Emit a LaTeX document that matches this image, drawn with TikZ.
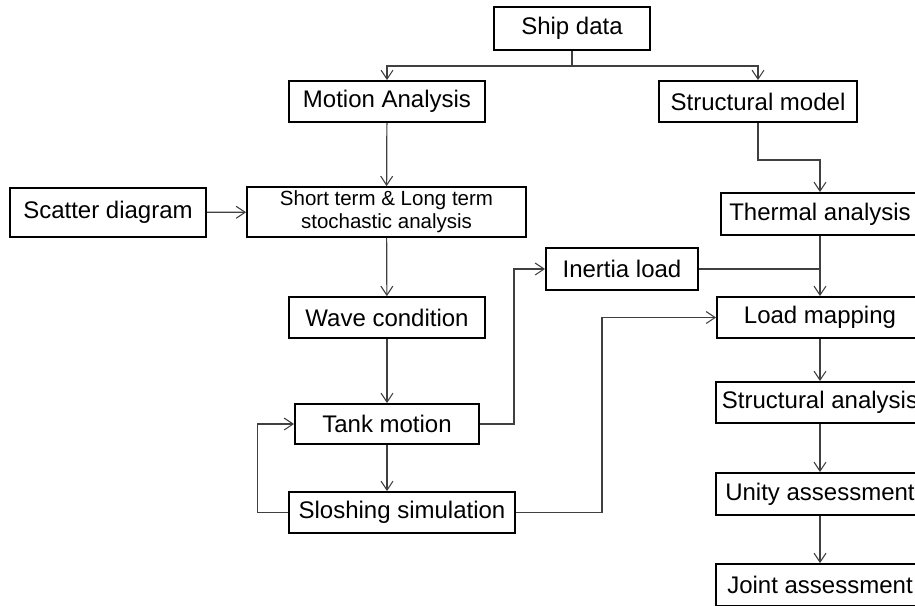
\documentclass[tikz,border=0pt]{standalone}
\usepackage{fontspec}
\setmainfont{Liberation Sans}
\usetikzlibrary{arrows.meta}
\begin{document}
\begin{tikzpicture}[x=1pt, y=-1pt,
    box/.style={draw=black, line width=1.8pt, fill=white, inner sep=0pt,
        minimum height=41pt, align=center, font=\fontsize{24}{28}\selectfont},
    link/.style={draw=black!75, line width=1.2pt},
    flow/.style={link, -{Straight Barb[length=9pt, width=12pt, line width=1.1pt]}}]
    \useasboundingbox (0,0) rectangle (915,605);
    \clip (0,0) rectangle (915,605);

    \node[box, minimum width=156pt, minimum height=43pt] (ship) at (572,28.5) {Ship data};
    \node[box, minimum width=196pt] (motion) at (387,101.5) {Motion Analysis};
    \node[box, minimum width=198pt] (strmodel) at (758,101.5) {Structural model};
    \node[box, minimum width=196pt, minimum height=49pt] (scatter) at (108,212.5) {Scatter diagram};
    \node[box, minimum width=279pt, minimum height=50pt,
        font=\fontsize{20.5}{23}\selectfont] (stoch) at (386.5,212) {Short term \& Long term\\stochastic analysis};
    \node[box, minimum width=198pt, minimum height=42pt] (thermal) at (820,214) {Thermal analysis};
    \node[box, minimum width=152pt, minimum height=42pt] (inertia) at (622,269) {Inertia load};
    \node[box, minimum width=206pt] (loadmap) at (820,317.5) {Load mapping};
    \node[box, minimum width=196pt] (wave) at (387,317.5) {Wave condition};
    \node[box, minimum width=208pt] (stran) at (820,402.5) {Structural analysis};
    \node[box, minimum width=184pt, minimum height=40pt] (tank) at (387,424) {Tank motion};
    \node[box, minimum width=208pt, minimum height=42pt] (unity) at (820,494) {Unity assessment};
    \node[box, minimum width=226pt] (slosh) at (402,512.5) {Sloshing simulation};
    \node[box, minimum width=208pt, minimum height=42pt] (joint) at (820,585) {Joint assessment};

    \draw[link] (ship.south) -- ++(0,15) coordinate (split);
    \draw[flow] (split) -| (motion.north);
    \draw[flow] (split) -| (strmodel.north);
    \draw[flow] (motion) -- (stoch);
    \draw[flow] (scatter) -- (stoch);
    \draw[flow] (stoch) -- (wave);
    \draw[flow] (wave) -- (tank);
    \draw[flow] (tank.south) -- (tank.south |- slosh.north);
    \draw[flow] (slosh.west) -- ++(-31,0) |- (tank.west);
    \draw[flow] (tank.east) -- ++(34,0) |- (inertia.west);
    \draw[flow] (slosh.east) -- ++(86,0) |- (loadmap.west);
    \draw[flow] (strmodel.south) -- ++(0,37) -| (thermal.north);
    \draw[flow] (thermal) -- (loadmap);
    \draw[link] (inertia.east) -- (inertia.east -| loadmap.north);
    \draw[flow] (loadmap) -- (stran);
    \draw[flow] (stran) -- (unity);
    \draw[flow] (unity) -- (joint);
\end{tikzpicture}
\end{document}
